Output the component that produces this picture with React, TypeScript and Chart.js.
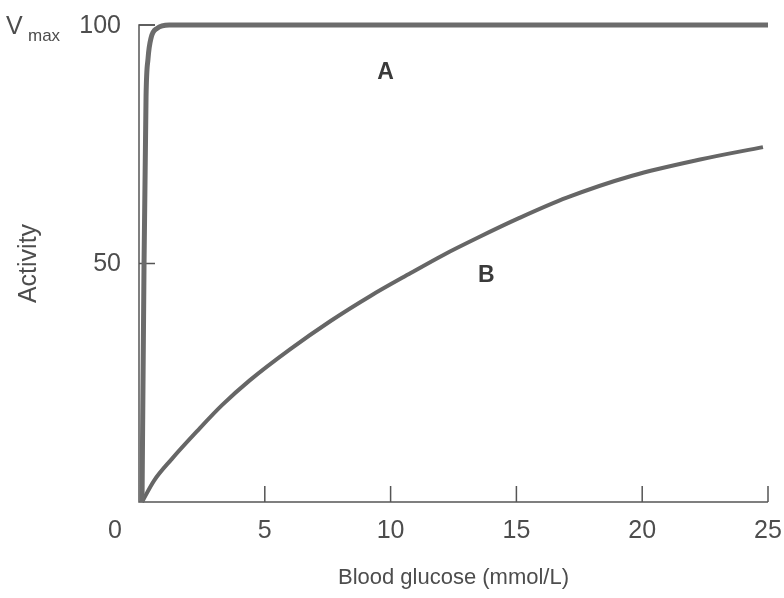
import React, { useEffect, useRef } from "react";
import { Chart, registerables } from "chart.js";

Chart.register(...registerables);

// Curve A (low-Km enzyme)
const glucoseA = [0.12, 0.2, 0.28, 0.36, 0.48, 0.72, 1.2, 25];
const activityA = [0, 50, 85, 93, 97.3, 99.3, 100, 100];

// Curve B (high-Km enzyme)
const glucoseB = [0.12, 0.6, 1.3, 2.3, 3.3, 4.4, 6.0, 7.6, 9.2, 10.8, 12.1, 13.5, 15.1, 17.0, 19.6, 22.3, 24.8];
const activityB = [0, 4.5, 9.0, 14.8, 20.3, 25.5, 32.0, 37.9, 43.2, 48.0, 51.8, 55.5, 59.5, 63.8, 68.4, 71.8, 74.4];

const xTicks = [0, 5, 10, 15, 20, 25];
const yTicks = [50, 100];
const xTitle = "Blood glucose (mmol/L)";
const yTitle = "Activity";
const vmaxMain = "V";
const vmaxSub = "max";
const curveNames = ["A", "B"];
const curveLabelX = [9.8, 13.8];
const curveLabelY = [90, 47.5];

const FONT = '"Liberation Sans", Arial, Helvetica, sans-serif';
const TEXT = "#4d4d4d";
const AXIS = "#555555";

const overlay = {
  id: "overlay",
  beforeDatasetsDraw(chart: any) {
    const ctx = chart.ctx;
    const xs = chart.scales.x;
    const ys = chart.scales.y;
    const x0 = xs.getPixelForValue(0);
    const y0 = ys.getPixelForValue(0);
    const yTop = ys.getPixelForValue(100);
    const xEnd = xs.getPixelForValue(25);
    ctx.save();
    ctx.strokeStyle = AXIS;
    ctx.lineWidth = 1.5;
    ctx.beginPath();
    ctx.moveTo(x0 + 16, yTop);
    ctx.lineTo(x0, yTop);
    ctx.lineTo(x0, y0);
    ctx.lineTo(xEnd, y0);
    ctx.stroke();
    ctx.beginPath();
    xTicks.forEach((v) => {
      if (v === 0) return;
      const px = xs.getPixelForValue(v);
      ctx.moveTo(px, y0);
      ctx.lineTo(px, y0 - 16);
    });
    yTicks.forEach((v) => {
      const py = ys.getPixelForValue(v);
      ctx.moveTo(x0, py);
      ctx.lineTo(x0 + 16, py);
    });
    ctx.stroke();
    ctx.restore();
  },
  afterDraw(chart: any) {
    const ctx = chart.ctx;
    const xs = chart.scales.x;
    const ys = chart.scales.y;
    const y0 = ys.getPixelForValue(0);
    ctx.save();
    ctx.fillStyle = TEXT;
    ctx.textBaseline = "middle";
    ctx.font = `25px ${FONT}`;
    xTicks.forEach((v) => {
      const px = xs.getPixelForValue(v);
      if (v === 0) {
        ctx.textAlign = "right";
        ctx.fillText(String(v), px - 17, y0 + 29);
      } else {
        ctx.textAlign = "center";
        ctx.fillText(String(v), px, y0 + 29);
      }
    });
    ctx.textAlign = "right";
    yTicks.forEach((v) => {
      const py = ys.getPixelForValue(v);
      ctx.fillText(String(v), xs.getPixelForValue(0) - 18, py + 1);
    });
    const pyTop = ys.getPixelForValue(100);
    ctx.textAlign = "left";
    ctx.textBaseline = "alphabetic";
    ctx.font = `25px ${FONT}`;
    ctx.fillText(vmaxMain, 6, pyTop + 9);
    ctx.font = `17px ${FONT}`;
    ctx.fillText(vmaxSub, 28, pyTop + 16);
    ctx.textBaseline = "middle";
    ctx.textAlign = "center";
    ctx.font = `22px ${FONT}`;
    ctx.fillText(xTitle, (xs.getPixelForValue(0) + xs.getPixelForValue(25)) / 2, y0 + 76);
    ctx.save();
    ctx.translate(29, ys.getPixelForValue(50));
    ctx.rotate(-Math.PI / 2);
    ctx.font = `25px ${FONT}`;
    ctx.fillText(yTitle, 0, 0);
    ctx.restore();
    ctx.font = `bold 23px ${FONT}`;
    ctx.fillStyle = "#3a3a3a";
    curveNames.forEach((n, i) => {
      ctx.fillText(n, xs.getPixelForValue(curveLabelX[i]), ys.getPixelForValue(curveLabelY[i]));
    });
    ctx.restore();
  },
};

export default function App() {
  const ref = useRef<HTMLCanvasElement | null>(null);
  useEffect(() => {
    document.body.style.margin = "0";
    const canvas = ref.current!;
    const chart = new Chart(canvas, {
      type: "line",
      data: {
        datasets: [
          {
            label: "A",
            data: glucoseA.map((x, i) => ({ x, y: activityA[i] })),
            borderColor: "#6c6c6c",
            borderWidth: 5,
            pointRadius: 0,
            cubicInterpolationMode: "monotone",
            fill: false,
            clip: false,
          } as any,
          {
            label: "B",
            data: glucoseB.map((x, i) => ({ x, y: activityB[i] })),
            borderColor: "#666666",
            borderWidth: 4,
            pointRadius: 0,
            cubicInterpolationMode: "monotone",
            fill: false,
            clip: false,
          } as any,
        ],
      },
      options: {
        responsive: false,
        animation: false,
        devicePixelRatio: 1,
        layout: { padding: { left: 139, right: 16, top: 25, bottom: 96 } },
        plugins: { legend: { display: false }, tooltip: { enabled: false } },
        scales: {
          x: { type: "linear", min: 0, max: 25, display: false },
          y: { type: "linear", min: 0, max: 100, display: false },
        },
      },
      plugins: [overlay],
    });
    return () => chart.destroy();
  }, []);
  return (
    <div style={{ position: "absolute", left: 0, top: 0, width: 784, height: 598, background: "#fff" }}>
      <canvas ref={ref} width={784} height={598} />
    </div>
  );
}
